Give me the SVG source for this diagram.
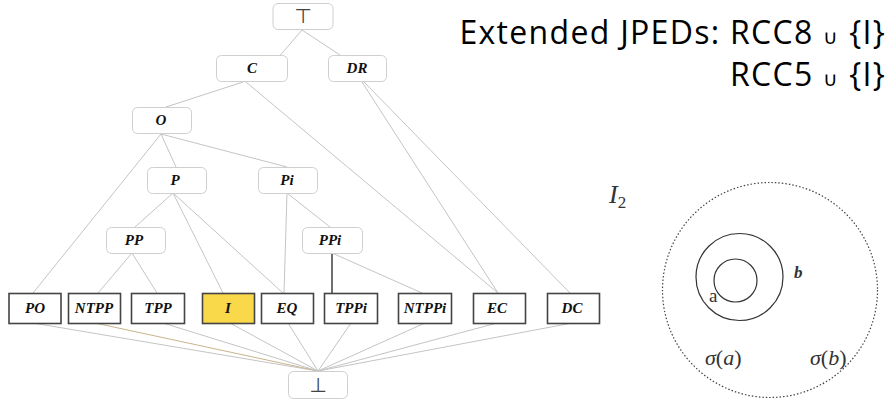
<svg xmlns="http://www.w3.org/2000/svg" width="890" height="401" viewBox="0 0 890 401">
<style>
.rn{fill:#fff;stroke:#cfcfcf;stroke-width:1}
.bn{fill:#fff;stroke:#444;stroke-width:1.6}
.lbl{font-family:"Liberation Serif",serif;font-weight:bold;font-style:italic;font-size:15px;text-anchor:middle;fill:#111}
.sym{font-family:"DejaVu Sans",sans-serif;font-size:20px;text-anchor:middle;fill:#444}
.ln{stroke:#c4c4c4;stroke-width:1;fill:none}
.title{font-family:"Open Sans",sans-serif;font-size:32px;letter-spacing:1.3px;fill:#000;text-anchor:end}
.cup{font-size:20px}
.math{font-family:"Liberation Serif",serif;fill:#333}
</style>
<rect width="890" height="401" fill="#fff"/>
<g id="connectors">
<line class="ln" x1="302" y1="30" x2="277" y2="59"/>
<line class="ln" x1="302" y1="30" x2="340" y2="55"/>
<line class="ln" x1="243" y1="82" x2="166" y2="107"/>
<line class="ln" x1="246" y1="82" x2="498" y2="293"/>
<line class="ln" x1="362" y1="82" x2="498" y2="293"/>
<line class="ln" x1="364" y1="82" x2="570" y2="293"/>
<line class="ln" x1="161" y1="134" x2="33" y2="293"/>
<line class="ln" x1="161" y1="134" x2="176" y2="167"/>
<line class="ln" x1="161" y1="134" x2="287" y2="167"/>
<line class="ln" x1="173" y1="193" x2="135" y2="227"/>
<line class="ln" x1="173" y1="193" x2="223" y2="293"/>
<line class="ln" x1="173" y1="193" x2="283" y2="293"/>
<line class="ln" x1="287" y1="193" x2="284" y2="293"/>
<line class="ln" x1="287" y1="193" x2="330" y2="227"/>
<line class="ln" x1="132" y1="253" x2="98" y2="293"/>
<line class="ln" x1="132" y1="253" x2="157" y2="293"/>
<line x1="332" y1="253" x2="332" y2="293" stroke="#111" stroke-width="1.2"/>
<line class="ln" x1="332" y1="253" x2="422" y2="293"/>
<line class="ln" x1="33" y1="323" x2="318" y2="371"/>
<line x1="95" y1="323" x2="318" y2="371" stroke="#c8b48a" stroke-width="1"/>
<line class="ln" x1="163" y1="323" x2="318" y2="371"/>
<line class="ln" x1="230" y1="323" x2="318" y2="371"/>
<line class="ln" x1="288" y1="323" x2="318" y2="371"/>
<line class="ln" x1="351" y1="323" x2="318" y2="371"/>
<line class="ln" x1="425" y1="323" x2="318" y2="371"/>
<line class="ln" x1="497" y1="323" x2="318" y2="371"/>
<line class="ln" x1="572" y1="323" x2="318" y2="371"/>
</g>
<g id="top"><rect class="rn" x="273" y="3.5" width="60" height="26" rx="5"/><text class="sym" x="303" y="23">⊤</text></g>
<g id="C"><rect class="rn" x="216.5" y="55.5" width="71" height="26" rx="5"/><text class="lbl" x="252" y="73">C</text></g>
<g id="DR"><rect class="rn" x="328.5" y="55.5" width="58" height="26" rx="5"/><text class="lbl" x="357" y="73">DR</text></g>
<g id="O"><rect class="rn" x="132.5" y="107.5" width="59" height="26" rx="5"/><text class="lbl" x="161" y="125">O</text></g>
<g id="P"><rect class="rn" x="147.5" y="167.5" width="59" height="26" rx="5"/><text class="lbl" x="175" y="185">P</text></g>
<g id="Pi"><rect class="rn" x="258.5" y="167.5" width="59" height="26" rx="5"/><text class="lbl" x="287" y="185">Pi</text></g>
<g id="PP"><rect class="rn" x="106.5" y="227.5" width="59" height="26" rx="5"/><text class="lbl" x="134" y="245">PP</text></g>
<g id="PPi"><rect class="rn" x="302.5" y="227.5" width="60" height="26" rx="5"/><text class="lbl" x="330" y="245">PPi</text></g>
<g id="PO"><rect class="bn" x="9" y="293.5" width="52" height="30"/><text class="lbl" x="35" y="313">PO</text></g>
<g id="NTPP"><rect class="bn" x="68.5" y="293.5" width="52" height="30"/><text class="lbl" x="94" y="313">NTPP</text></g>
<g id="TPP"><rect class="bn" x="131.5" y="293.5" width="53" height="30"/><text class="lbl" x="158" y="313">TPP</text></g>
<g id="I"><rect x="202.5" y="293.5" width="52" height="30" fill="#f9d84a" stroke="#444" stroke-width="1.6"/><text class="lbl" x="228" y="313">I</text></g>
<g id="EQ"><rect class="bn" x="261.5" y="293.5" width="52" height="30"/><text class="lbl" x="287" y="313">EQ</text></g>
<g id="TPPi"><rect class="bn" x="324.5" y="293.5" width="53" height="30"/><text class="lbl" x="351" y="313">TPPi</text></g>
<g id="NTPPi"><rect class="bn" x="398.5" y="293.5" width="53" height="30"/><text class="lbl" x="425" y="313">NTPPi</text></g>
<g id="EC"><rect class="bn" x="473.5" y="293.5" width="52" height="30"/><text class="lbl" x="497" y="313">EC</text></g>
<g id="DC"><rect class="bn" x="547.5" y="293.5" width="52" height="30"/><text class="lbl" x="572" y="313">DC</text></g>
<g id="bottom"><rect class="rn" x="288.5" y="371.5" width="59" height="27" rx="5"/><text class="sym" x="318" y="392">⊥</text></g>
<text class="title" x="886" y="44">Extended JPEDs: RCC8 <tspan class="cup">∪</tspan> {I}</text>
<text class="title" x="886" y="86">RCC5 <tspan class="cup">∪</tspan> {I}</text>
<text class="math" x="609" y="203" font-size="26" font-style="italic">I<tspan font-size="17" font-style="normal" dy="5">2</tspan></text>
<circle cx="770" cy="290" r="107.5" fill="none" stroke="#444" stroke-width="1.2" stroke-dasharray="1.5 2"/>
<circle cx="739.5" cy="277" r="43.5" fill="none" stroke="#333" stroke-width="1.2"/>
<circle cx="735.5" cy="280.5" r="21.5" fill="none" stroke="#333" stroke-width="1.2"/>
<text class="math" x="709" y="302" font-size="19" fill="#222">a</text>
<text class="math" x="794" y="278" font-size="17" font-weight="bold" font-style="italic" fill="#111">b</text>
<text class="math" x="705" y="365" font-size="22"><tspan font-style="italic">σ</tspan>(<tspan font-style="italic">a</tspan>)</text>
<text class="math" x="810" y="365" font-size="22"><tspan font-style="italic">σ</tspan>(<tspan font-style="italic">b</tspan>)</text>
</svg>
